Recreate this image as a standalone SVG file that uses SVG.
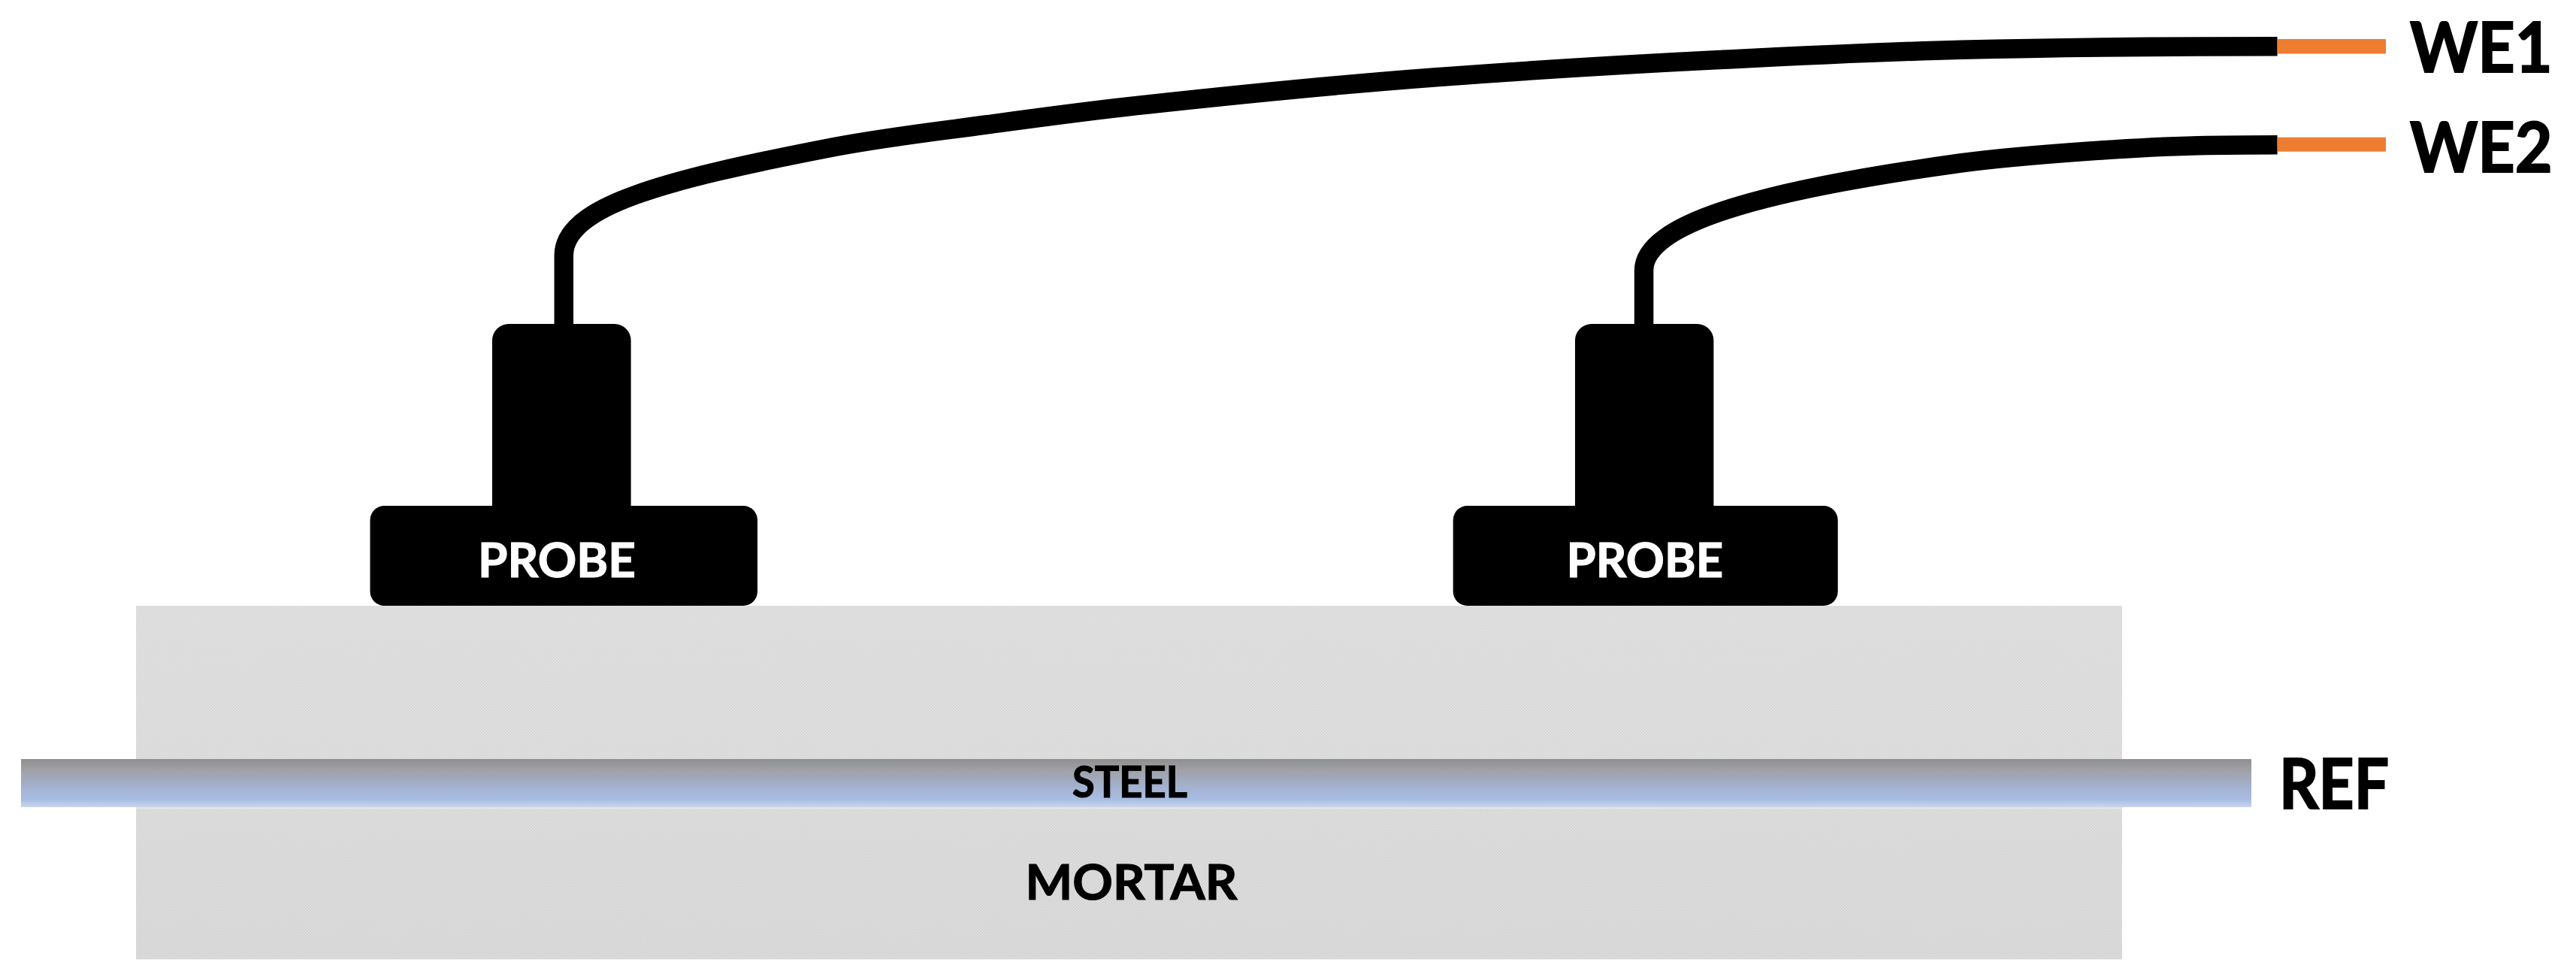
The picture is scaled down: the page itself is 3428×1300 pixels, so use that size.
<svg xmlns="http://www.w3.org/2000/svg" width="3428" height="1300" viewBox="0 0 3428 1300">
<style>
.probe{fill:#000}
.cable{fill:none;stroke:#000;stroke-width:25.5}
.lead{fill:#ed7d31}
text{font-family:"Lato","Open Sans","Liberation Sans",sans-serif;font-weight:700;fill:#000;stroke:#000;stroke-width:1.2px}
.w{fill:#fff;stroke:#fff;font-size:64px}
.big{font-size:92px;stroke-width:2px}
</style>
<defs>
<linearGradient id="steelGrad" x1="0" y1="0" x2="0" y2="1">
<stop offset="0" stop-color="#8f8f8f"/>
<stop offset="0.25" stop-color="#a0a2a8"/>
<stop offset="0.55" stop-color="#a2b0cc"/>
<stop offset="0.85" stop-color="#a9bde4"/>
<stop offset="1" stop-color="#cad6ec"/>
</linearGradient>
<linearGradient id="mortarGrad" x1="0" y1="0" x2="0" y2="1">
<stop offset="0" stop-color="#dddddd"/>
<stop offset="1" stop-color="#d7d7d7"/>
</linearGradient>
<pattern id="dither" width="4" height="4" patternUnits="userSpaceOnUse">
<rect width="2" height="2" fill="#fff" fill-opacity="0.1"/>
<rect x="2" y="2" width="2" height="2" fill="#fff" fill-opacity="0.1"/>
<rect x="2" width="2" height="2" fill="#000" fill-opacity="0.012"/>
<rect y="2" width="2" height="2" fill="#000" fill-opacity="0.012"/>
</pattern>
</defs>
<rect width="3428" height="1300" fill="#fff"/>
<g id="mortar">
<rect x="181" y="806" width="2643" height="470.5" fill="url(#mortarGrad)"/>
<rect x="181" y="806" width="2643" height="470.5" fill="url(#dither)"/>
<rect x="181" y="1074" width="2643" height="2.5" fill="#e3e3e3"/>
<text x="1505.5" y="1197" text-anchor="middle" font-size="65" textLength="282" lengthAdjust="spacingAndGlyphs">MORTAR</text>
</g>
<g id="steel">
<rect x="28" y="1010" width="2968" height="64" fill="url(#steelGrad)"/>
<text x="1503.5" y="1060.5" text-anchor="middle" font-size="57" textLength="153" lengthAdjust="spacingAndGlyphs">STEEL</text>
</g>
<g id="connectors">
<path id="cable-1" class="cable" d="M750.3,435 L750.3,340 C750.3,275 880,240 1108,196 C1176,182.9 1244,175.2 1312,166 C1375,157.5 1437,149 1500,142 C1636,127 1772,113.2 1908,103 C2039,93.2 2169,85.5 2300,79 C2403,73.8 2506,68.9 2609,66.3 C2714,63.7 2820,62.4 2925,62 C2960,61.9 2995,61.7 3030.6,61.7"/>
<path id="cable-2" class="cable" d="M2187.6,435 L2187.6,360 C2187.6,298 2340,254 2609,217 C2666,209.2 2724,205 2781,201 C2829,197.6 2877,194.9 2925,193.7 C2960,192.9 2995,192.7 3030.6,192.7"/>
<rect id="lead-1" class="lead" x="3030.6" y="52" width="144.4" height="19.5"/>
<rect id="lead-2" class="lead" x="3030.6" y="182.7" width="144.4" height="19"/>
</g>
<g id="probe-1">
<rect class="probe" x="655" y="431" width="184.6" height="300" rx="22"/>
<rect class="probe" x="492.5" y="673" width="515.5" height="133" rx="19"/>
<text class="w" x="741" y="768" text-anchor="middle" textLength="210" lengthAdjust="spacingAndGlyphs">PROBE</text>
</g>
<g id="probe-2">
<rect class="probe" x="2096" y="431" width="184.4" height="300" rx="22"/>
<rect class="probe" x="1933.7" y="673" width="512" height="133" rx="19"/>
<text class="w" x="2188.8" y="768" text-anchor="middle" textLength="208.5" lengthAdjust="spacingAndGlyphs">PROBE</text>
</g>
<g id="label-we1"><text class="big" x="3207" y="96" textLength="189.6" lengthAdjust="spacingAndGlyphs">WE1</text></g>
<g id="label-we2"><text class="big" x="3207" y="228.5" textLength="189.6" lengthAdjust="spacingAndGlyphs">WE2</text></g>
<g id="label-ref"><text class="big" x="3033" y="1076" textLength="146" lengthAdjust="spacingAndGlyphs">REF</text></g>
</svg>
